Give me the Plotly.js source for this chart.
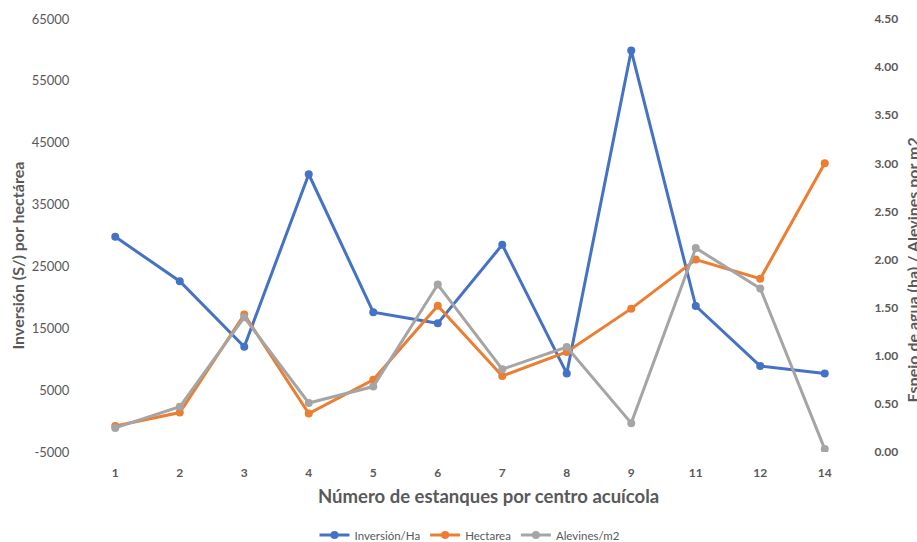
<!DOCTYPE html>
<html>
<head>
<meta charset="utf-8">
<script src="https://cdn.plot.ly/plotly-3.0.1.min.js"></script>
<style>html,body{margin:0;padding:0;background:#fff;}#chart{width:917px;height:542px;}</style>
</head>
<body>
<div id="chart"></div>
<script>
const categories = ["1","2","3","4","5","6","7","8","9","11","12","14"];
const inversionHa = [29800, 22600, 12000, 39900, 17600, 15800, 28500, 7700, 59900, 18600, 8900, 7700];
const hectarea = [0.27, 0.41, 1.43, 0.40, 0.75, 1.52, 0.79, 1.04, 1.49, 2.00, 1.80, 3.00];
const alevines = [0.25, 0.47, 1.40, 0.51, 0.68, 1.74, 0.86, 1.09, 0.30, 2.12, 1.70, 0.03];
const leftTicks = [-5000, 5000, 15000, 25000, 35000, 45000, 55000, 65000];
const rightTicks = [0, 0.5, 1, 1.5, 2, 2.5, 3, 3.5, 4, 4.5];

const FONT = "Lato, 'Open Sans', sans-serif";
const GREY = "#595959";

function series(name, y, color, axis) {
  return {
    type: "scatter", mode: "lines+markers", name: name,
    x: categories, y: y, yaxis: axis,
    line: {color: color, width: 3},
    marker: {color: color, size: 8}
  };
}

const data = [
  series("Inversión/Ha", inversionHa, "#4472C4", "y"),
  series("Hectarea", hectarea, "#ED7D31", "y2"),
  series("Alevines/m2", alevines, "#A5A5A5", "y2")
];

const PW = 774, PH = 433;
const layout = {
  width: 917, height: 542,
  margin: {l: 83, r: 60, t: 19, b: 90, autoexpand: false},
  paper_bgcolor: "#fff", plot_bgcolor: "#fff",
  font: {family: FONT, color: GREY},
  showlegend: true,
  legend: {orientation: "h", x: 0.5, xanchor: "center", y: (452-535)/PH, yanchor: "middle",
           font: {size: 11.5, color: GREY}, itemwidth: 30, traceorder: "normal"},
  xaxis: {
    type: "category", range: [-0.5, 11.5], showgrid: false, zeroline: false, showline: false,
    automargin: false,
    ticks: "outside", ticklen: 10, tickcolor: "rgba(0,0,0,0)",
    tickfont: {size: 12, color: GREY, weight: "bold"}
  },
  yaxis: {
    range: [-5000, 65000], tickvals: leftTicks, ticktext: leftTicks.map(String),
    showgrid: false, zeroline: false, showline: false, automargin: false,
    ticks: "outside", ticklen: 10, tickcolor: "rgba(0,0,0,0)",
    tickfont: {size: 13, color: GREY}
  },
  yaxis2: {
    overlaying: "y", side: "right", range: [0, 4.5], tickvals: rightTicks,
    ticktext: rightTicks.map(v => v.toFixed(2)),
    showgrid: false, zeroline: false, showline: false, automargin: false,
    ticks: "outside", ticklen: 14, tickcolor: "rgba(0,0,0,0)",
    tickfont: {size: 12, color: GREY, weight: "bold"}
  },
  annotations: [
    {text: "Número de estanques por centro acuícola", xref: "paper", yref: "paper",
     x: (488-83)/PW, xanchor: "center", y: (452-496)/PH, yanchor: "middle",
     showarrow: false, font: {size: 18.5, color: GREY, weight: "bold"}},
    {text: "Inversión (S/) por hectárea", xref: "paper", yref: "paper",
     x: (17.5-83)/PW, xanchor: "center", y: (452-256)/PH, yanchor: "middle",
     textangle: -90, showarrow: false, font: {size: 16, color: GREY, weight: "bold"}},
    {text: "Espejo de agua (ha) / Alevines por m2", xref: "paper", yref: "paper",
     x: (900-83)/PW, xanchor: "left", y: (452-270)/PH, yanchor: "middle",
     textangle: -90, showarrow: false, font: {size: 16, color: GREY, weight: "bold"}}
  ]
};

Plotly.newPlot("chart", data, layout, {displayModeBar: false, staticPlot: true});
</script>
</body>
</html>
